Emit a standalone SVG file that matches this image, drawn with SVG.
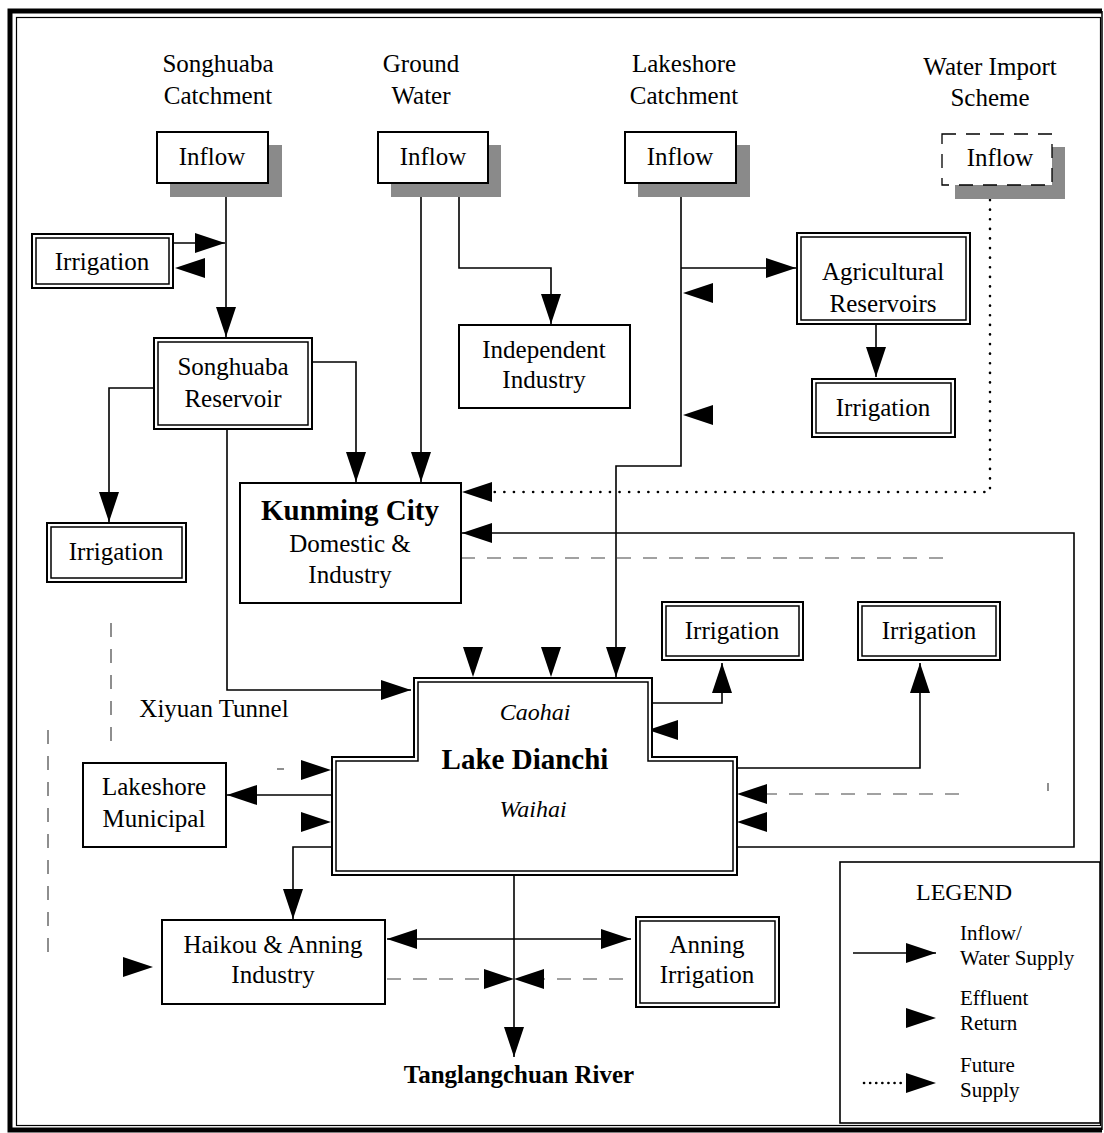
<svg xmlns="http://www.w3.org/2000/svg" xmlns:xlink="http://www.w3.org/1999/xlink" width="1104" height="1133" viewBox="0 0 1104 1133">
<style>
text{font-family:"Liberation Serif","Times New Roman",serif;fill:#000;}
.t{font-size:25px;text-anchor:middle;}
.b{font-weight:bold;}
.i{font-style:italic;}
.lg{font-size:21px;text-anchor:start;}
.box{fill:#fff;stroke:#000;stroke-width:2;}
.inner{fill:none;stroke:#000;stroke-width:1.5;}
.shadow{fill:#8a8a8a;}
.ln{fill:none;stroke:#000;stroke-width:1.6;}
.dash{fill:none;stroke:#444;stroke-width:1.2;stroke-dasharray:14 12;}
.dot{fill:none;stroke:#000;stroke-width:2.6;stroke-linecap:round;stroke-dasharray:0.1 9.5;}
.ah{fill:#000;}
</style>
<defs>
<marker id="arr" viewBox="0 0 30 20" refX="30" refY="10" markerWidth="30" markerHeight="20" markerUnits="userSpaceOnUse" orient="auto-start-reverse">
<path d="M0,0 L30,10 L0,20 Z" fill="#000"/>
</marker>
<path id="head" d="M0,0 L-30,-10 L-30,10 Z"/>
</defs>
<rect width="1104" height="1133" fill="#fff"/>
<g id="frame">
<path d="M1102,11 H10 V1130 H1102" fill="none" stroke="#000" stroke-width="5"/>
<rect x="16.5" y="17.5" width="1084" height="1108" fill="none" stroke="#000" stroke-width="1.2"/>
<line x1="1102" y1="11" x2="1102" y2="1130" stroke="#000" stroke-width="1.5"/>
</g>
<g id="headers">
<text class="t" x="218" y="72">Songhuaba</text>
<text class="t" x="218" y="104">Catchment</text>
<text class="t" x="421" y="72">Ground</text>
<text class="t" x="421" y="104">Water</text>
<text class="t" x="684" y="72">Lakeshore</text>
<text class="t" x="684" y="104">Catchment</text>
<text class="t" x="990" y="75">Water Import</text>
<text class="t" x="990" y="106">Scheme</text>
</g>
<g id="connectors">
<path class="ln" d="M226,183 V337" marker-end="url(#arr)"/>
<path class="ln" d="M173,243 H225" marker-end="url(#arr)"/>
<path class="ln" d="M421,183 V482" marker-end="url(#arr)"/>
<path class="ln" d="M459,183 V268 H551 V324" marker-end="url(#arr)"/>
<path class="ln" d="M681,183 V466 H616 V677" marker-end="url(#arr)"/>
<path class="ln" d="M681,268 H796" marker-end="url(#arr)"/>
<path class="ln" d="M876,324 V377" marker-end="url(#arr)"/>
<path class="dot" d="M990,200 V492 H470"/>
<use href="#head" class="ah" transform="translate(462,492) rotate(180)"/>
<path class="ln" d="M312,362 H356 V482" marker-end="url(#arr)"/>
<path class="ln" d="M160,388 H109 V522" marker-end="url(#arr)"/>
<path class="ln" d="M227,429 V690 H411" marker-end="url(#arr)"/>
<path class="ln" d="M737,847 H1074 V533 H462" marker-end="url(#arr)"/>
<path class="dash" d="M461,558 H954"/>
<path class="ln" d="M652,703 H722 V663" marker-end="url(#arr)"/>
<path class="ln" d="M737,768 H920 V663" marker-end="url(#arr)"/>
<path class="dash" d="M959,794 H760"/>
<use href="#head" class="ah" transform="translate(737,794) rotate(180)"/>
<path class="ln" d="M332,795 H227" marker-end="url(#arr)"/>
<path class="ln" d="M332,847 H293 V919" marker-end="url(#arr)"/>
<path class="ln" d="M514,875 V1057" marker-end="url(#arr)"/>
<path class="ln" d="M387,939 H631" marker-start="url(#arr)" marker-end="url(#arr)"/>
<path class="dash" d="M387,979 H490"/>
<use href="#head" class="ah" transform="translate(514,979)"/>
<path class="dash" d="M623,979 H540"/>
<use href="#head" class="ah" transform="translate(514,979) rotate(180)"/>
<path class="dash" d="M48,730 V962" stroke-dasharray="20 12"/>
<path class="dash" d="M111,623 V743" stroke-dasharray="5 50 13 27 10 10 6"/>
<line x1="277" y1="769" x2="284" y2="769" stroke="#444" stroke-width="1.2"/>
<line x1="1048" y1="783" x2="1048" y2="791" stroke="#444" stroke-width="1.2"/>
</g>
<g id="effluent-returns">
<use href="#head" class="ah" transform="translate(175,268) rotate(180)"/>
<use href="#head" class="ah" transform="translate(683,293) rotate(180)"/>
<use href="#head" class="ah" transform="translate(683,415) rotate(180)"/>
<use href="#head" class="ah" transform="translate(648,730) rotate(180)"/>
<use href="#head" class="ah" transform="translate(737,822) rotate(180)"/>
<use href="#head" class="ah" transform="translate(473,677) rotate(90)"/>
<use href="#head" class="ah" transform="translate(551,677) rotate(90)"/>
<use href="#head" class="ah" transform="translate(331,770)"/>
<use href="#head" class="ah" transform="translate(331,822)"/>
<use href="#head" class="ah" transform="translate(153,967)"/>
</g>
<g id="inflow-songhuaba">
<rect class="shadow" x="170" y="145" width="112" height="52"/>
<rect class="box" x="157" y="132" width="111" height="51"/>
<text class="t" x="212" y="165">Inflow</text>
</g>
<g id="inflow-groundwater">
<rect class="shadow" x="391" y="145" width="110" height="52"/>
<rect class="box" x="378" y="132" width="110" height="51"/>
<text class="t" x="433" y="165">Inflow</text>
</g>
<g id="inflow-lakeshore">
<rect class="shadow" x="638" y="145" width="112" height="52"/>
<rect class="box" x="625" y="132" width="111" height="51"/>
<text class="t" x="680" y="165">Inflow</text>
</g>
<g id="inflow-import">
<rect class="shadow" x="955" y="147" width="110" height="52"/>
<rect x="942" y="134" width="110" height="51" fill="#fff" stroke="#000" stroke-width="1.3" stroke-dasharray="14 10"/>
<text class="t" x="1000" y="166">Inflow</text>
</g>
<g id="irrigation-songhuaba">
<rect class="box" x="32" y="234" width="141" height="54"/>
<rect class="inner" x="36" y="238" width="133" height="46"/>
<text class="t" x="102" y="270">Irrigation</text>
</g>
<g id="songhuaba-reservoir">
<rect class="box" x="154" y="338" width="158" height="91"/>
<rect class="inner" x="158" y="342" width="150" height="83"/>
<text class="t" x="233" y="375">Songhuaba</text>
<text class="t" x="233" y="407">Reservoir</text>
</g>
<g id="independent-industry">
<rect class="box" x="459" y="325" width="171" height="83"/>
<text class="t" x="544" y="358">Independent</text>
<text class="t" x="544" y="388">Industry</text>
</g>
<g id="agricultural-reservoirs">
<rect class="box" x="797" y="233" width="173" height="91"/>
<rect class="inner" x="801" y="237" width="165" height="83"/>
<text class="t" x="883" y="280">Agricultural</text>
<text class="t" x="883" y="312">Reservoirs</text>
</g>
<g id="irrigation-agri">
<rect class="box" x="812" y="379" width="143" height="58"/>
<rect class="inner" x="816" y="383" width="135" height="50"/>
<text class="t" x="883" y="416">Irrigation</text>
</g>
<g id="kunming-city">
<rect class="box" x="240" y="483" width="221" height="120"/>
<text class="t b" x="350" y="520" style="font-size:29px">Kunming City</text>
<text class="t" x="350" y="552">Domestic &amp;</text>
<text class="t" x="350" y="583">Industry</text>
</g>
<g id="irrigation-west">
<rect class="box" x="47" y="523" width="139" height="59"/>
<rect class="inner" x="51" y="527" width="131" height="51"/>
<text class="t" x="116" y="560">Irrigation</text>
</g>
<g id="irrigation-caohai">
<rect class="box" x="662" y="602" width="141" height="58"/>
<rect class="inner" x="666" y="606" width="133" height="50"/>
<text class="t" x="732" y="639">Irrigation</text>
</g>
<g id="irrigation-waihai">
<rect class="box" x="858" y="602" width="142" height="58"/>
<rect class="inner" x="862" y="606" width="134" height="50"/>
<text class="t" x="929" y="639">Irrigation</text>
</g>
<g id="xiyuan-tunnel">
<text class="t" x="214" y="717">Xiyuan Tunnel</text>
</g>
<g id="lake-dianchi">
<path d="M414,678 H652 V757 H737 V875 H332 V757 H414 Z" fill="#fff" stroke="#000" stroke-width="2"/>
<path d="M418,682 H648 V761 H733 V871 H336 V761 H418 Z" fill="none" stroke="#000" stroke-width="1.5"/>
<text class="t i" x="535" y="720" style="font-size:24px">Caohai</text>
<text class="t b" x="525" y="769" style="font-size:29px">Lake Dianchi</text>
<text class="t i" x="533" y="817" style="font-size:24px">Waihai</text>
</g>
<g id="lakeshore-municipal">
<rect class="box" x="83" y="763" width="143" height="84"/>
<text class="t" x="154" y="795">Lakeshore</text>
<text class="t" x="154" y="827">Municipal</text>
</g>
<g id="haikou-anning-industry">
<rect class="box" x="162" y="920" width="223" height="84"/>
<text class="t" x="273" y="953">Haikou &amp; Anning</text>
<text class="t" x="273" y="983">Industry</text>
</g>
<g id="anning-irrigation">
<rect class="box" x="636" y="917" width="143" height="90"/>
<rect class="inner" x="640" y="921" width="135" height="82"/>
<text class="t" x="707" y="953">Anning</text>
<text class="t" x="707" y="983">Irrigation</text>
</g>
<g id="tanglangchuan-river">
<text class="t b" x="519" y="1083">Tanglangchuan River</text>
</g>
<g id="legend">
<rect x="840" y="862" width="260" height="261" fill="#fff" stroke="#000" stroke-width="1.6"/>
<text class="t" x="964" y="900" style="font-size:24px">LEGEND</text>
<path class="ln" d="M853,953 H936" marker-end="url(#arr)"/>
<text class="lg" x="960" y="940">Inflow/</text>
<text class="lg" x="960" y="965">Water Supply</text>
<use href="#head" class="ah" transform="translate(936,1018)"/>
<text class="lg" x="960" y="1005">Effluent</text>
<text class="lg" x="960" y="1030">Return</text>
<path class="dot" d="M864,1083 H903" style="stroke-dasharray:0.1 6"/>
<use href="#head" class="ah" transform="translate(936,1083)"/>
<text class="lg" x="960" y="1072">Future</text>
<text class="lg" x="960" y="1097">Supply</text>
</g>
</svg>
